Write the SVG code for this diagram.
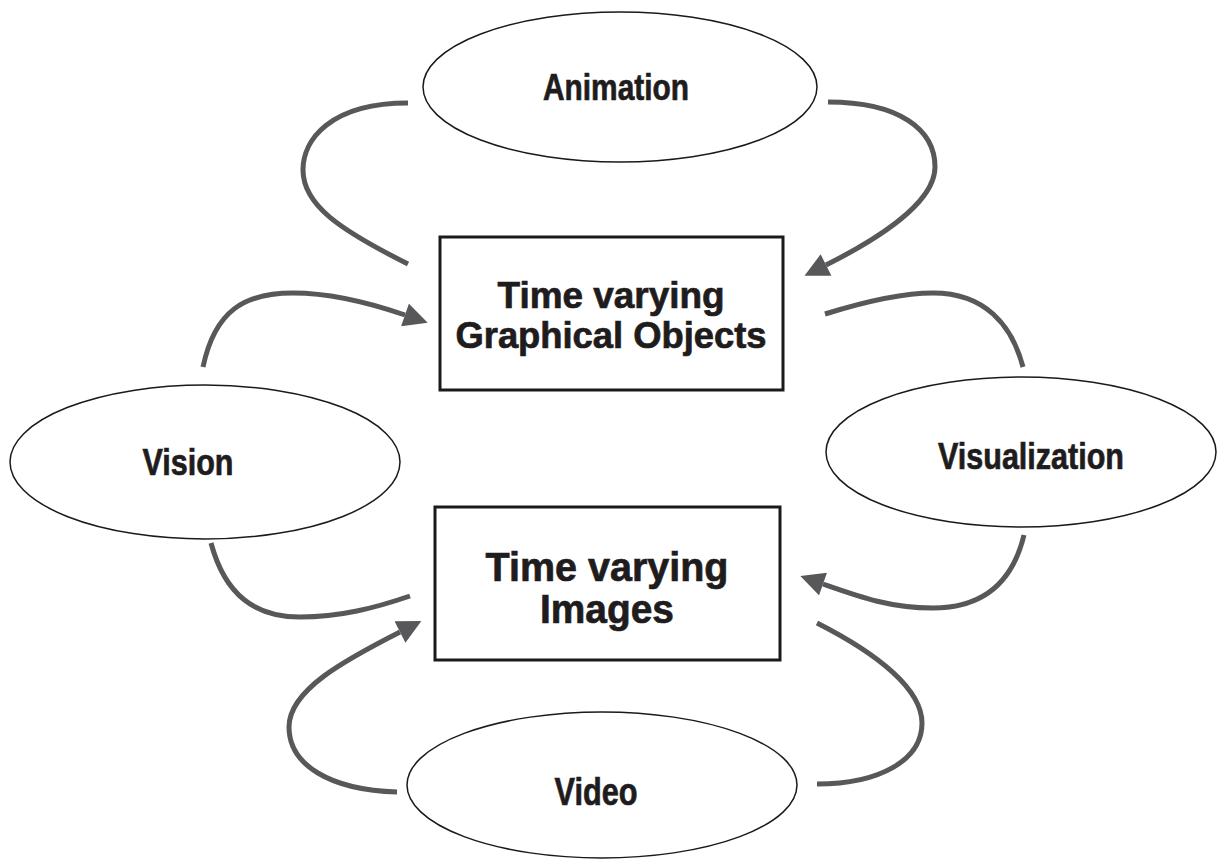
<svg xmlns="http://www.w3.org/2000/svg" width="1218" height="859" viewBox="0 0 1218 859">
  <style>
    .oval { fill: #ffffff; stroke: #1a1a1a; stroke-width: 1.5; }
    .box { fill: #ffffff; stroke: #1a1a1a; stroke-width: 3; }
    .label { font-family: "Liberation Sans", Arial, sans-serif; font-weight: bold; fill: #1f1c1d; stroke: #1f1c1d; stroke-width: 0.7; text-anchor: middle; }
    .flow { fill: none; stroke: #58585a; stroke-width: 5; }
    .flow.arrow { marker-end: url(#head); }
  </style>
  <defs>
    <marker id="head" viewBox="0 0 10 10" refX="0" refY="5" markerWidth="5.2" markerHeight="4.8" orient="auto" markerUnits="strokeWidth">
      <path d="M0,0 L10,5 L0,10 z" fill="#58585a"/>
    </marker>
  </defs>
  <rect width="1218" height="859" fill="#ffffff"/>

  <g id="connectors">
    <!-- Animation loop -->
    <path class="flow" d="M408,103 C330,103 303,140 303,170 C303,205 340,230 408,264"/>
    <path class="flow arrow" d="M828,102 C900,102 935,130 935,167 C935,205 870,243 826,265"/>
    <!-- Vision loop -->
    <path class="flow arrow" d="M203,367 C215,310 245,293 293,293 C330,293 370,303 405,315"/>
    <path class="flow" d="M211,543 C225,595 255,617 300,617 C340,617 375,608 410,596"/>
    <!-- Visualization loop -->
    <path class="flow" d="M825,314 C870,300 905,293 933,293 C985,293 1012,325 1023,367"/>
    <path class="flow arrow" d="M1024,535 C1012,585 980,608 933,608 C890,608 860,597 823,584"/>
    <!-- Video loop -->
    <path class="flow arrow" d="M397,792 C330,790 289,765 289,727 C289,690 345,660 400,632"/>
    <path class="flow" d="M817,623 C880,655 922,690 922,723 C922,760 880,784 817,784"/>
  </g>

  <g id="animation">
    <ellipse class="oval" cx="620" cy="87" rx="197" ry="75"/>
    <text class="label" x="616" y="100" font-size="37" textLength="146" lengthAdjust="spacingAndGlyphs">Animation</text>
  </g>

  <g id="graphical-objects">
    <rect class="box" x="440" y="237" width="343" height="153"/>
    <text class="label" x="611" y="308" font-size="36" textLength="227" lengthAdjust="spacingAndGlyphs">Time varying</text>
    <text class="label" x="611" y="348" font-size="36" textLength="311" lengthAdjust="spacingAndGlyphs">Graphical Objects</text>
  </g>

  <g id="vision">
    <ellipse class="oval" cx="205" cy="462" rx="195" ry="77"/>
    <text class="label" x="188" y="475" font-size="37" textLength="91" lengthAdjust="spacingAndGlyphs">Vision</text>
  </g>

  <g id="visualization">
    <ellipse class="oval" cx="1021" cy="452" rx="195" ry="75"/>
    <text class="label" x="1031" y="469" font-size="37" textLength="186" lengthAdjust="spacingAndGlyphs">Visualization</text>
  </g>

  <g id="images">
    <rect class="box" x="435" y="507" width="345" height="153"/>
    <text class="label" x="607" y="581" font-size="40" textLength="243" lengthAdjust="spacingAndGlyphs">Time varying</text>
    <text class="label" x="607" y="623" font-size="41" textLength="134" lengthAdjust="spacingAndGlyphs">Images</text>
  </g>

  <g id="video">
    <ellipse class="oval" cx="602" cy="785" rx="195" ry="73"/>
    <text class="label" x="596" y="805" font-size="38" textLength="83" lengthAdjust="spacingAndGlyphs">Video</text>
  </g>
</svg>
